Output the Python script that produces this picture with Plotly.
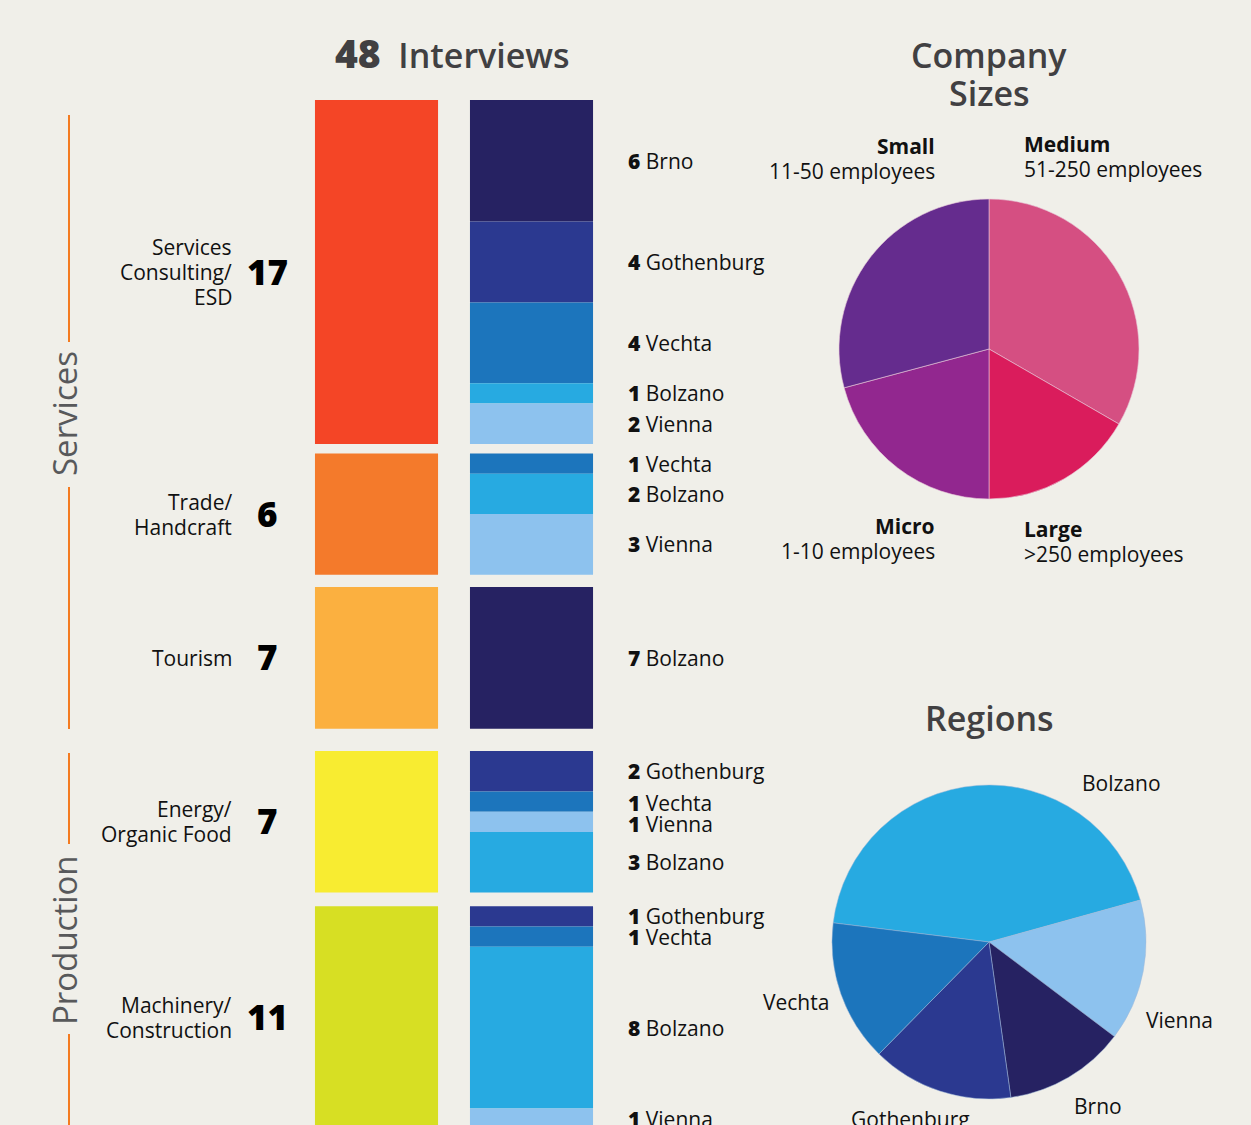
import plotly.graph_objects as go

# ---------------- data ----------------
sector_names = [["Services", "Consulting/", "ESD"], ["Trade/", "Handcraft"], ["Tourism"],
                ["Energy/", "Organic Food"], ["Machinery/", "Construction"]]
sector_counts = [17, 6, 7, 7, 11]
sector_colors = ["#F44526", "#F47A2B", "#FBB040", "#F8EC31", "#D7DF23"]

group_names = ["Services", "Production"]

breakdown_cities = [
    ["Brno", "Gothenburg", "Vechta", "Bolzano", "Vienna"],
    ["Vechta", "Bolzano", "Vienna"],
    ["Bolzano"],
    ["Gothenburg", "Vechta", "Vienna", "Bolzano"],
    ["Gothenburg", "Vechta", "Bolzano", "Vienna"],
]
breakdown_counts = [
    [6, 4, 4, 1, 2],
    [1, 2, 3],
    [7],
    [2, 1, 1, 3],
    [1, 1, 8, 1],
]
city_colors = {"Brno": "#262262", "Gothenburg": "#2B3990", "Vechta": "#1C75BC",
               "Bolzano": "#27AAE1", "Vienna": "#8DC2EE"}
# the tourism segment is drawn in dark navy in the original
segment_color_override = {(2, 0): "#262262"}

size_names = ["Medium", "Large", "Micro", "Small"]
size_ranges = ["51-250 employees", ">250 employees", "1-10 employees", "11-50 employees"]
size_counts = [16, 8, 10, 14]
size_colors = ["#D54F82", "#DA1C5C", "#92278F", "#652C8E"]

region_order = ["Bolzano", "Vienna", "Brno", "Gothenburg", "Vechta"]
region_counts = [sum(c for row_c, row_n in zip(breakdown_counts, breakdown_cities)
                     for c, n in zip(row_c, row_n) if n == r) for r in region_order]

# ---------------- layout constants ----------------
W, H = 1251, 1125
BG = "#F0EFE9"
FONT = "Open Sans"
TITLE_C = "#414042"
TEXT_C = "#111111"
gaps = [0.46, 0.6, 1.1, 0.67]      # spacing between sector blocks (interview units)
PX_PER_UNIT = 20.24
TOP_PX = 100
LINE_H = 25
FS = 21


def px(x):
    return x / W


def py(y):
    return 1 - y / H


ann = []


def add_lines(x, y, lines, anchor, yref="paper", size=FS, color=TEXT_C, spacing=LINE_H, shift=0):
    n = len(lines)
    for i, t in enumerate(lines):
        ann.append(dict(x=x, xref="paper", y=y, yref=yref, xanchor=anchor, yanchor="middle",
                        text=t, showarrow=False, yshift=-(i - (n - 1) / 2) * spacing + shift,
                        font=dict(family=FONT, size=size, color=color)))


# bases for sector blocks
bases = []
cum = 0.0
for i, c in enumerate(sector_counts):
    bases.append(cum)
    cum += c + (gaps[i] if i < len(gaps) else 0)

# segment bases for the region column
seg_x, seg_y, seg_base, seg_col, seg_lab_y, seg_text, seg_key = [], [], [], [], [], [], []
for i, (names, counts) in enumerate(zip(breakdown_cities, breakdown_counts)):
    b = bases[i]
    for j, (n, c) in enumerate(zip(names, counts)):
        seg_x.append("region")
        seg_y.append(c)
        seg_base.append(b)
        seg_col.append(segment_color_override.get((i, j), city_colors[n]))
        seg_lab_y.append(b + c / 2)
        seg_text.append(f"<span style='font-weight:800'>{c}</span> {n}")
        seg_key.append((i, j))
        b += c

# small label nudges (pixels) where labels are tightly stacked
label_nudge = {(3, 1): -1, (3, 2): -2}

fig = go.Figure()
fig.add_trace(go.Bar(x=["sector"] * len(sector_counts), y=sector_counts, base=bases,
                     marker=dict(color=sector_colors, line=dict(width=0)),
                     width=0.794, hoverinfo="skip", showlegend=False))
fig.add_trace(go.Bar(x=seg_x, y=seg_y, base=seg_base,
                     marker=dict(color=seg_col, line=dict(width=0)),
                     width=0.794, hoverinfo="skip", showlegend=False))

# pies
fig.add_trace(go.Pie(values=size_counts, labels=size_names, sort=False, direction="clockwise",
                     rotation=0, marker=dict(colors=size_colors, line=dict(color="#E8C8D8", width=0.6)),
                     textinfo="none", hoverinfo="label+value", showlegend=False,
                     domain=dict(x=[px(839), px(1139)], y=[py(499), py(199)])))
fig.add_trace(go.Pie(values=region_counts, labels=region_order, sort=False, direction="clockwise",
                     rotation=277,
                     marker=dict(colors=[city_colors[r] for r in region_order],
                                 line=dict(color="#9FB8D8", width=0.5)),
                     textinfo="none", hoverinfo="label+value", showlegend=False,
                     domain=dict(x=[px(832), px(1146)], y=[py(1099), py(785)])))

# right-hand segment labels
for yv, t, k in zip(seg_lab_y, seg_text, seg_key):
    add_lines(px(626), yv, [t], "left", yref="y", shift=label_nudge.get(k, 0))

# left sector labels and numbers
for i, (n, c) in enumerate(zip(sector_names, sector_counts)):
    yc = bases[i] + c / 2
    add_lines(px(234), yc, n, "right", yref="y")
    ann.append(dict(x=px(267), xref="paper", y=yc, yref="y", xanchor="center", yanchor="middle",
                    text=f"<span style='font-weight:800'>{c}</span>", showarrow=False, yshift=1,
                    font=dict(family=FONT, size=35, color="#000000", weight=800)))

# titles
total = sum(sector_counts)
ann.append(dict(x=px(452), xref="paper", y=py(53), yref="paper", xanchor="center", yanchor="middle",
                text=f"<span style='font-size:39px;font-weight:800'>{total}</span>  Interviews",
                showarrow=False, font=dict(family=FONT, size=34, color=TITLE_C, weight=600)))
ann.append(dict(x=px(989), xref="paper", y=py(55), yref="paper", xanchor="center", yanchor="middle",
                text="Company", showarrow=False, font=dict(family=FONT, size=34, color=TITLE_C, weight=600)))
ann.append(dict(x=px(989), xref="paper", y=py(93), yref="paper", xanchor="center", yanchor="middle",
                text="Sizes", showarrow=False, font=dict(family=FONT, size=34, color=TITLE_C, weight=600)))
ann.append(dict(x=px(989), xref="paper", y=py(718), yref="paper", xanchor="center", yanchor="middle",
                text="Regions", showarrow=False, font=dict(family=FONT, size=34, color=TITLE_C, weight=600)))

# group labels (rotated)
ann.append(dict(x=px(64), xref="paper", y=py(414), yref="paper", xanchor="center", yanchor="middle",
                text=group_names[0], textangle=-90, showarrow=False,
                font=dict(family=FONT, size=33, color="#58595B")))
ann.append(dict(x=px(64), xref="paper", y=py(940), yref="paper", xanchor="center", yanchor="middle",
                text=group_names[1], textangle=-90, showarrow=False,
                font=dict(family=FONT, size=33, color="#58595B")))

# company size pie labels
size_pos = {"Small": (937, 158, "right"), "Medium": (1022, 156, "left"),
            "Micro": (937, 539, "right"), "Large": (1022, 541, "left")}
for n, r in zip(size_names, size_ranges):
    xx, yy, side = size_pos[n]
    add_lines(px(xx), py(yy), [f"<b>{n}</b>", r], side)

# region pie labels
reg_pos = {"Bolzano": (1080, 783, "left"), "Vienna": (1144, 1020, "left"),
           "Brno": (1072, 1106, "left"), "Gothenburg": (911, 1119, "center"),
           "Vechta": (831, 1002, "right")}
for r in region_order:
    xx, yy, side = reg_pos[r]
    add_lines(px(xx), py(yy), [r], side)

# orange group lines
LINE_C = "#F47B20"
shapes = []
for y0, y1 in [(115, 342), (487, 729), (753, 844), (1034, 1130)]:
    shapes.append(dict(type="line", xref="paper", yref="paper", x0=px(69), x1=px(69),
                       y0=py(y0), y1=py(y1), line=dict(color=LINE_C, width=2)))

fig.update_layout(
    width=W, height=H, margin=dict(l=0, r=0, t=0, b=0),
    paper_bgcolor=BG, plot_bgcolor=BG, barmode="overlay", showlegend=False,
    xaxis=dict(type="category", categoryorder="array", categoryarray=["sector", "region"],
               range=[-0.5, 1.5], domain=[px(299), px(609)], visible=False, fixedrange=True),
    yaxis=dict(range=[(H - TOP_PX) / PX_PER_UNIT, -TOP_PX / PX_PER_UNIT], domain=[0, 1],
               visible=False, fixedrange=True),
    annotations=ann, shapes=shapes,
)

fig.write_html("out.html")
